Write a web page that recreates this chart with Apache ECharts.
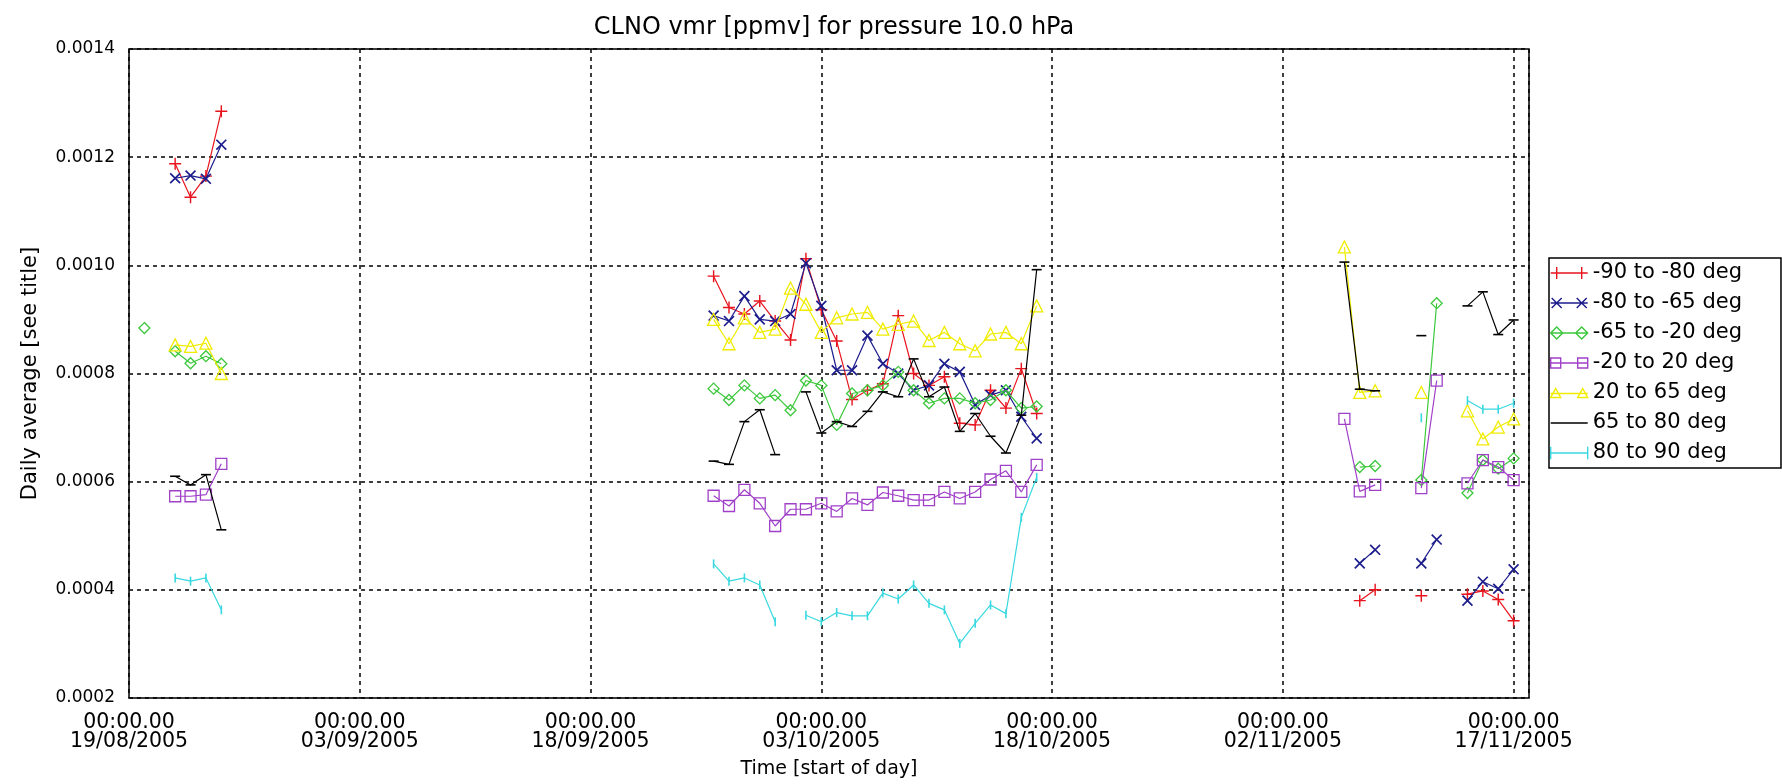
<!DOCTYPE html>
<html><head><meta charset="utf-8">
<script src="https://cdn.jsdelivr.net/npm/echarts@6/dist/echarts.min.js"></script>
<style>html,body{margin:0;padding:0;background:#fff}#c{width:1782px;height:784px}</style>
</head><body><div id="c"></div>
<script>
// x values are days since 19/08/2005 00:00
const seriesNames = ['-90 to -80 deg','-80 to -65 deg','-65 to -20 deg','-20 to 20 deg','20 to 65 deg','65 to 80 deg','80 to 90 deg'];
const seriesColors = ['#e8141e','#1c1c8c','#3cc83c','#a040c8','#f0ec00','#000000','#38d8e0'];
const xTickLabels = ['19/08/2005','03/09/2005','18/09/2005','03/10/2005','18/10/2005','02/11/2005','17/11/2005'];
const yTicks = [0.0002,0.0004,0.0006,0.0008,0.0010,0.0012,0.0014];

const midDays = [38,39,40,41,42,43,44,45,46,47,48,49,50,51,52,53,54,55,56,57,58,59];

const days_s1 = [3,4,5,6].concat(midDays,[80,81,84,87,88,89,90]);
const vals_s1 = [0.001188,0.001126,0.001165,0.001285,
  0.00098,0.000922,0.00091,0.000934,0.000897,0.000862,0.001012,0.000918,0.00086,0.000752,0.000769,0.000781,0.000907,0.0008,0.000778,0.000794,0.000708,0.000705,0.000769,0.000736,0.000809,0.000726,
  0.00038,0.0004,0.000389,0.000392,0.000398,0.000382,0.000343];

const days_s2 = [3,4,5,6].concat(midDays,[80,81,84,85,87,88,89,90]);
const vals_s2 = [0.001161,0.001166,0.00116,0.001223,
  0.000907,0.000897,0.000943,0.0009,0.000897,0.00091,0.001004,0.000925,0.000806,0.000806,0.00087,0.000818,0.0008,0.000769,0.000778,0.000818,0.000803,0.000742,0.00076,0.000769,0.00072,0.00068,
  0.000449,0.000474,0.000449,0.000493,0.00038,0.000415,0.000402,0.000438];

const days_s3 = [1,3,4,5,6].concat(midDays,[80,81,84,85,87,88,89,90]);
const vals_s3 = [0.000884,0.000841,0.000819,0.000832,0.000818,
  0.000772,0.000751,0.000778,0.000754,0.00076,0.000732,0.000787,0.000778,0.000705,0.000763,0.000769,0.000778,0.000803,0.000769,0.000745,0.000754,0.000754,0.000745,0.000751,0.000769,0.000736,0.000739,
  0.000627,0.000629,0.000603,0.00093,0.000579,0.00064,0.000624,0.000643];

const days_s4 = [3,4,5,6].concat(midDays,[79,80,81,84,85,87,88,89,90]);
const vals_s4 = [0.000573,0.000573,0.000576,0.000633,
  0.000574,0.000555,0.000585,0.00056,0.000518,0.000549,0.000549,0.00056,0.000545,0.000569,0.000557,0.00058,0.000574,0.000566,0.000566,0.000581,0.000569,0.000581,0.000604,0.00062,0.000581,0.000631,
  0.000716,0.000582,0.000594,0.000588,0.000787,0.000597,0.00064,0.000627,0.000603];

const days_s5 = [3,4,5,6].concat(midDays,[79,80,81,84,87,88,89,90]);
const vals_s5 = [0.000853,0.00085,0.000856,0.0008,
  0.0009,0.000855,0.000903,0.000876,0.000882,0.000958,0.000928,0.000876,0.000903,0.00091,0.000913,0.000882,0.000891,0.000897,0.000861,0.000876,0.000855,0.000842,0.000873,0.000876,0.000855,0.000925,
  0.001034,0.000765,0.000768,0.000765,0.000731,0.000679,0.000701,0.000716];

const days_s6 = [3,4,5,6,38,39,40,41,42,44,45,46,47,48,49,50,51,52,53,54,55,56,57,58,59,79,80,81,84,87,88,89,90];
const vals_s6 = [0.00061,0.000594,0.000613,0.000511,
  0.000638,0.000632,0.000711,0.000733,0.00065,
  0.000766,0.00069,0.000711,0.000702,0.00073,0.000766,0.000757,0.000827,0.000757,0.000775,0.000693,0.000726,0.000684,0.000653,0.000723,0.000992,
  0.001006,0.000771,0.000768,0.00087,0.000925,0.000951,0.000872,0.000899];

const days_s7 = [3,4,5,6,38,39,40,41,42,44,45,46,47,48,49,50,51,52,53,54,55,56,57,58,59,84,87,88,89,90];
const vals_s7 = [0.000422,0.000416,0.000422,0.000363,
  0.000448,0.000416,0.000422,0.000409,0.000341,
  0.000353,0.000341,0.000358,0.000352,0.000352,0.000394,0.000383,0.000409,0.000375,0.000363,0.000301,0.000338,0.000372,0.000356,0.000534,0.000608,
  0.000718,0.00075,0.000734,0.000734,0.000745];

const allDays = [days_s1,days_s2,days_s3,days_s4,days_s5,days_s6,days_s7];
const allVals = [vals_s1,vals_s2,vals_s3,vals_s4,vals_s5,vals_s6,vals_s7];

// marker shapes
const PLUS = 'path://M4.4,0H5.6V10H4.4ZM0,4.4H10V5.6H0Z';
const symbolDefs = [
  {symbol: PLUS, size: 12, rotate: 0, fill: true},
  {symbol: PLUS, size: 14, rotate: 45, fill: true},
  {symbol: 'path://M5,0L10,5L5,10L0,5Z', size: 11, rotate: 0, fill: false},
  {symbol: 'path://M0,0H10V10H0Z', size: 11, rotate: 0, fill: false},
  {symbol: 'path://M5,0L10,9L0,9Z', size: 12, rotate: 0, fill: false},
  {symbol: 'rect', size: [10, 1.6], rotate: 0, fill: true},
  {symbol: 'rect', size: [1.6, 9], rotate: 0, fill: true}
];
// legend icons: line with the marker at both ends (stroked)
const legendIcons = [
  'path://M0,7H37M6,1V13M0,7H12M31,1V13',
  'path://M0,7H37M1,2L11,12M11,2L1,12M26,2L36,12M36,2L26,12',
  'path://M0,7H37M6,1L12,7L6,13L0,7ZM31,1L37,7L31,13L25,7Z',
  'path://M0,7H37M0,2H10V12H0ZM27,2H37V12H27Z',
  'path://M0,7H37M5,2L10,11H0ZM32,2L37,11H27Z',
  'path://M0,7H37M0,6.95V7.05',
  'path://M4,7H34M4,2V12M34,2V12'
];

function buildData(days, vals) {
  const out = [];
  for (let i = 0; i < days.length; i++) {
    if (i > 0 && days[i] - days[i-1] > 1) out.push([(days[i] + days[i-1]) / 2, null]);
    out.push([days[i], vals[i]]);
  }
  return out;
}

const FONT = 'DejaVu Sans';
const series = seriesNames.map((name, k) => {
  const s = symbolDefs[k];
  const c = seriesColors[k];
  return {
    name: name,
    type: 'line',
    data: buildData(allDays[k], allVals[k]),
    connectNulls: false,
    showSymbol: true,
    showAllSymbol: true,
    symbol: s.symbol,
    symbolSize: s.size,
    symbolRotate: s.rotate,
    color: c,
    lineStyle: {color: c, width: 1.2},
    itemStyle: s.fill ? {color: c, borderWidth: 0} : {color: 'rgba(255,255,255,0)', borderColor: c, borderWidth: 1.3},
    emphasis: {disabled: true},
    z: 3 + k
  };
});

const legendData = seriesNames.map((name, k) => ({
  name: name,
  icon: legendIcons[k],
  itemStyle: {color: 'rgba(255,255,255,0)', borderColor: seriesColors[k], borderWidth: 1.4}
}));

const chart = echarts.init(document.getElementById('c'), null, {renderer: 'canvas'});
chart.setOption({
  animation: false,
  backgroundColor: '#fff',
  textStyle: {fontFamily: FONT},
  title: {
    text: 'CLNO vmr [ppmv] for pressure 10.0 hPa',
    left: 829, top: 11, textAlign: 'center',
    textStyle: {fontFamily: FONT, fontSize: 24, fontWeight: 'normal', color: '#000'}
  },
  legend: {
    orient: 'vertical', left: 1549, top: 258,
    itemWidth: 37, itemHeight: 14, itemGap: 9,
    padding: [4.5, 39, 4.5, 1],
    symbolKeepAspect: true,
    borderColor: '#000', borderWidth: 1.5, backgroundColor: '#fff',
    textStyle: {fontFamily: FONT, fontSize: 21, color: '#000'},
    data: legendData
  },
  grid: {left: 129, top: 49, width: 1400, height: 649, show: true, borderColor: '#000', borderWidth: 1.5, backgroundColor: 'rgba(0,0,0,0)'},
  xAxis: {
    type: 'value', min: 0, max: 91, interval: 15,
    name: 'Time [start of day]', nameLocation: 'middle', nameGap: 62,
    nameTextStyle: {fontFamily: FONT, fontSize: 19, color: '#000'},
    axisLine: {show: false}, axisTick: {show: false},
    axisLabel: {
      margin: 15, fontFamily: FONT, fontSize: 20.5, color: '#000', lineHeight: 19,
      showMaxLabel: false,
      formatter: v => { const i = Math.round(v / 15); return (Math.abs(v - i*15) < 1e-6 && xTickLabels[i]) ? '00:00.00\n' + xTickLabels[i] : ''; }
    },
    splitLine: {show: true, lineStyle: {color: '#000', width: 1.5, type: [4, 4]}}
  },
  yAxis: {
    type: 'value', min: yTicks[0], max: yTicks[yTicks.length-1], interval: 0.0002,
    name: 'Daily average [see title]', nameLocation: 'middle', nameGap: 88, nameRotate: 90,
    nameTextStyle: {fontFamily: FONT, fontSize: 21, color: '#000'},
    axisLine: {show: false}, axisTick: {show: false},
    axisLabel: {margin: 14, fontFamily: FONT, fontSize: 17, color: '#000', formatter: v => v.toFixed(4)},
    splitLine: {show: true, lineStyle: {color: '#000', width: 1.5, type: [4, 4]}}
  },
  series: series
});
</script>
</body></html>
